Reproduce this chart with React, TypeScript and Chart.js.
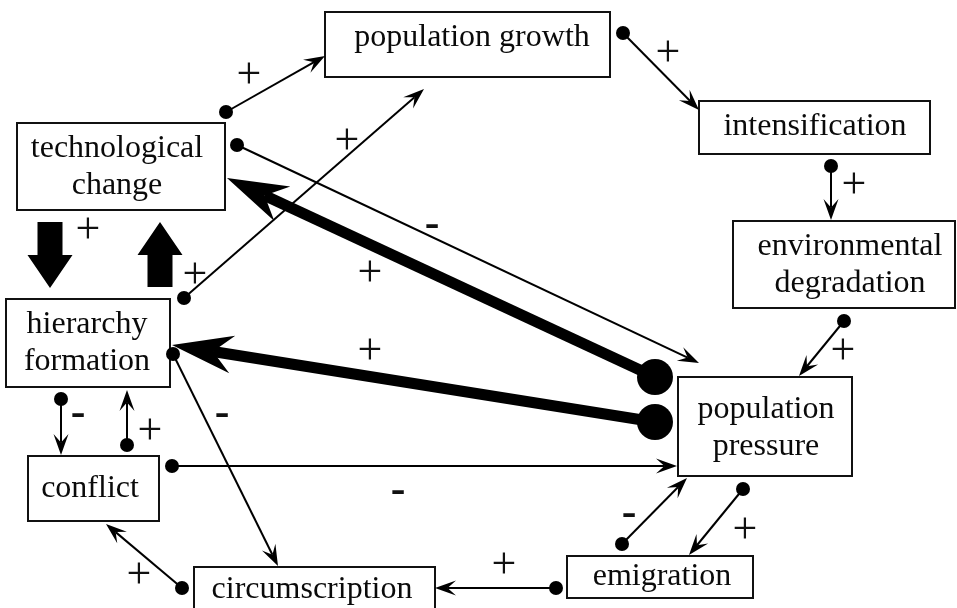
import React, { useEffect, useRef } from "react";
import { Chart, registerables } from "chart.js";

Chart.register(...registerables);

// ---- Nodes (boxes) ----
const nodeLines: string[][] = [
  ["population growth"],
  ["technological", "change"],
  ["intensification"],
  ["environmental", "degradation"],
  ["hierarchy", "formation"],
  ["conflict"],
  ["circumscription"],
  ["population", "pressure"],
  ["emigration"],
];
const nodeLeft = [325, 17, 699, 733, 6, 28, 194, 678, 567];
const nodeTop = [12, 123, 101, 221, 299, 456, 567, 377, 556];
const nodeRight = [610, 225, 930, 955, 170, 159, 435, 852, 753];
const nodeBottom = [77, 210, 154, 308, 387, 521, 620, 476, 598];
const nodeTextX = [472, 117, 815, 850, 87, 90, 312, 766, 662];
const nodeTextBaseline = [46, 157, 135, 255, 333, 497, 598, 418, 585];

// ---- Edges (tail dot -> arrow tip) ----
const edgeFromX = [226, 184, 237, 655, 655, 50, 160, 623, 831, 844, 61, 127, 173, 172, 182, 556, 622, 743];
const edgeFromY = [112, 298, 145, 377, 422, 222, 287, 33, 166, 321, 399, 445, 354, 466, 588, 588, 544, 489];
const edgeToX = [325, 424, 699, 227, 172, 50, 160, 699, 831, 799, 61, 127, 278, 677, 106, 435, 687, 689];
const edgeToY = [56, 89, 363, 178, 345, 288, 222, 110, 220, 376, 455, 390, 566, 466, 524, 588, 478, 555];
const edgeKind = ["thin", "thin", "thin", "thick", "thick", "block", "block", "thin", "thin", "thin", "thin", "thin", "thin", "thin", "thin", "thin", "thin", "thin"];

// ---- Sign labels ----
const signText = ["+", "+", "-", "+", "+", "+", "+", "+", "+", "+", "-", "+", "-", "-", "+", "+", "-", "+"];
const signX = [249, 347, 432, 370, 370, 88, 195, 668, 854, 843, 78, 150, 222, 398, 139, 504, 629, 745];
const signY = [77, 143, 226, 275, 353, 232, 277, 55, 187, 353, 415, 433, 415, 492, 577, 567, 515, 532];

const FONT = '"Liberation Serif", "Times New Roman", serif';

const diagramPlugin = {
  id: "diagram",
  afterDatasetsDraw(chart: any) {
    const ctx: CanvasRenderingContext2D = chart.ctx;
    const xs = chart.scales.x;
    const ys = chart.scales.y;
    const px = (v: number) => xs.getPixelForValue(v);
    const py = (v: number) => ys.getPixelForValue(v);
    ctx.save();
    ctx.fillStyle = "#fff";
    ctx.fillRect(0, 0, chart.width, chart.height);

    // boxes
    for (let i = 0; i < nodeLines.length; i++) {
      const l = px(nodeLeft[i]), t = py(nodeTop[i]);
      const r = px(nodeRight[i]), b = py(nodeBottom[i]);
      ctx.fillStyle = "#fff";
      ctx.fillRect(l, t, r - l, b - t);
      ctx.strokeStyle = "#111";
      ctx.lineWidth = 2;
      ctx.strokeRect(l, t, r - l, b - t);
      ctx.fillStyle = "#0a0a0a";
      ctx.font = `32px ${FONT}`;
      ctx.textAlign = "center";
      ctx.textBaseline = "alphabetic";
      nodeLines[i].forEach((line, k) => {
        ctx.fillText(line, px(nodeTextX[i]), py(nodeTextBaseline[i] + k * 37));
      });
    }

    // edges
    for (let i = 0; i < edgeKind.length; i++) {
      const x0 = px(edgeFromX[i]), y0 = py(edgeFromY[i]);
      const x1 = px(edgeToX[i]), y1 = py(edgeToY[i]);
      const len = Math.hypot(x1 - x0, y1 - y0);
      const dx = (x1 - x0) / len, dy = (y1 - y0) / len;
      const nx = -dy, ny = dx;
      ctx.fillStyle = "#000";
      ctx.strokeStyle = "#000";
      const kind = edgeKind[i];
      if (kind === "block") {
        const H = 33, sw = 12.5, hw = 22.5;
        const bx = x1 - dx * H, by = y1 - dy * H;
        ctx.beginPath();
        ctx.moveTo(x0 + nx * sw, y0 + ny * sw);
        ctx.lineTo(bx + nx * sw, by + ny * sw);
        ctx.lineTo(bx + nx * hw, by + ny * hw);
        ctx.lineTo(x1, y1);
        ctx.lineTo(bx - nx * hw, by - ny * hw);
        ctx.lineTo(bx - nx * sw, by - ny * sw);
        ctx.lineTo(x0 - nx * sw, y0 - ny * sw);
        ctx.closePath();
        ctx.fill();
        continue;
      }
      const thick = kind === "thick";
      const L = thick ? 61 : 21;
      const W = thick ? 19 : 7.5;
      const notch = thick ? 0.68 : 0.6;
      const dotR = thick ? 18 : 7;
      ctx.lineWidth = thick ? 11 : 2;
      ctx.beginPath();
      ctx.moveTo(x0, y0);
      ctx.lineTo(x1 - dx * L * notch, y1 - dy * L * notch);
      ctx.stroke();
      // head
      ctx.beginPath();
      ctx.moveTo(x1, y1);
      ctx.lineTo(x1 - dx * L + nx * W, y1 - dy * L + ny * W);
      ctx.lineTo(x1 - dx * L * notch, y1 - dy * L * notch);
      ctx.lineTo(x1 - dx * L - nx * W, y1 - dy * L - ny * W);
      ctx.closePath();
      ctx.fill();
      // dot
      ctx.beginPath();
      ctx.arc(x0, y0, dotR, 0, Math.PI * 2);
      ctx.fill();
    }

    // signs
    const S = 44;
    ctx.textAlign = "center";
    ctx.textBaseline = "alphabetic";
    ctx.fillStyle = "#111";
    for (let i = 0; i < signText.length; i++) {
      const minus = signText[i] === "-";
      ctx.font = `${minus ? "bold " : ""}${S}px ${FONT}`;
      ctx.fillText(signText[i], px(signX[i]), py(signY[i]) + 0.24 * S);
    }
    ctx.restore();
  },
};

export default function App() {
  const ref = useRef<HTMLCanvasElement | null>(null);
  useEffect(() => {
    if (!ref.current) return;
    const centers = nodeLeft.map((l, i) => ({
      x: (l + nodeRight[i]) / 2,
      y: (nodeTop[i] + nodeBottom[i]) / 2,
    }));
    const chart = new Chart(ref.current, {
      type: "scatter",
      data: {
        datasets: [{ data: centers, pointRadius: 0, showLine: false }],
      },
      options: {
        animation: false,
        responsive: false,
        events: [],
        layout: { padding: 0 },
        plugins: { legend: { display: false }, tooltip: { enabled: false } },
        scales: {
          x: { type: "linear", min: 0, max: 957, display: false },
          y: { type: "linear", min: 0, max: 608, reverse: true, display: false },
        },
      },
      plugins: [diagramPlugin],
    } as any);
    return () => chart.destroy();
  }, []);
  return (
    <div style={{ position: "absolute", left: 0, top: 0, width: 957, height: 608, background: "#fff" }}>
      <canvas ref={ref} width={957} height={608} style={{ display: "block" }} />
    </div>
  );
}
